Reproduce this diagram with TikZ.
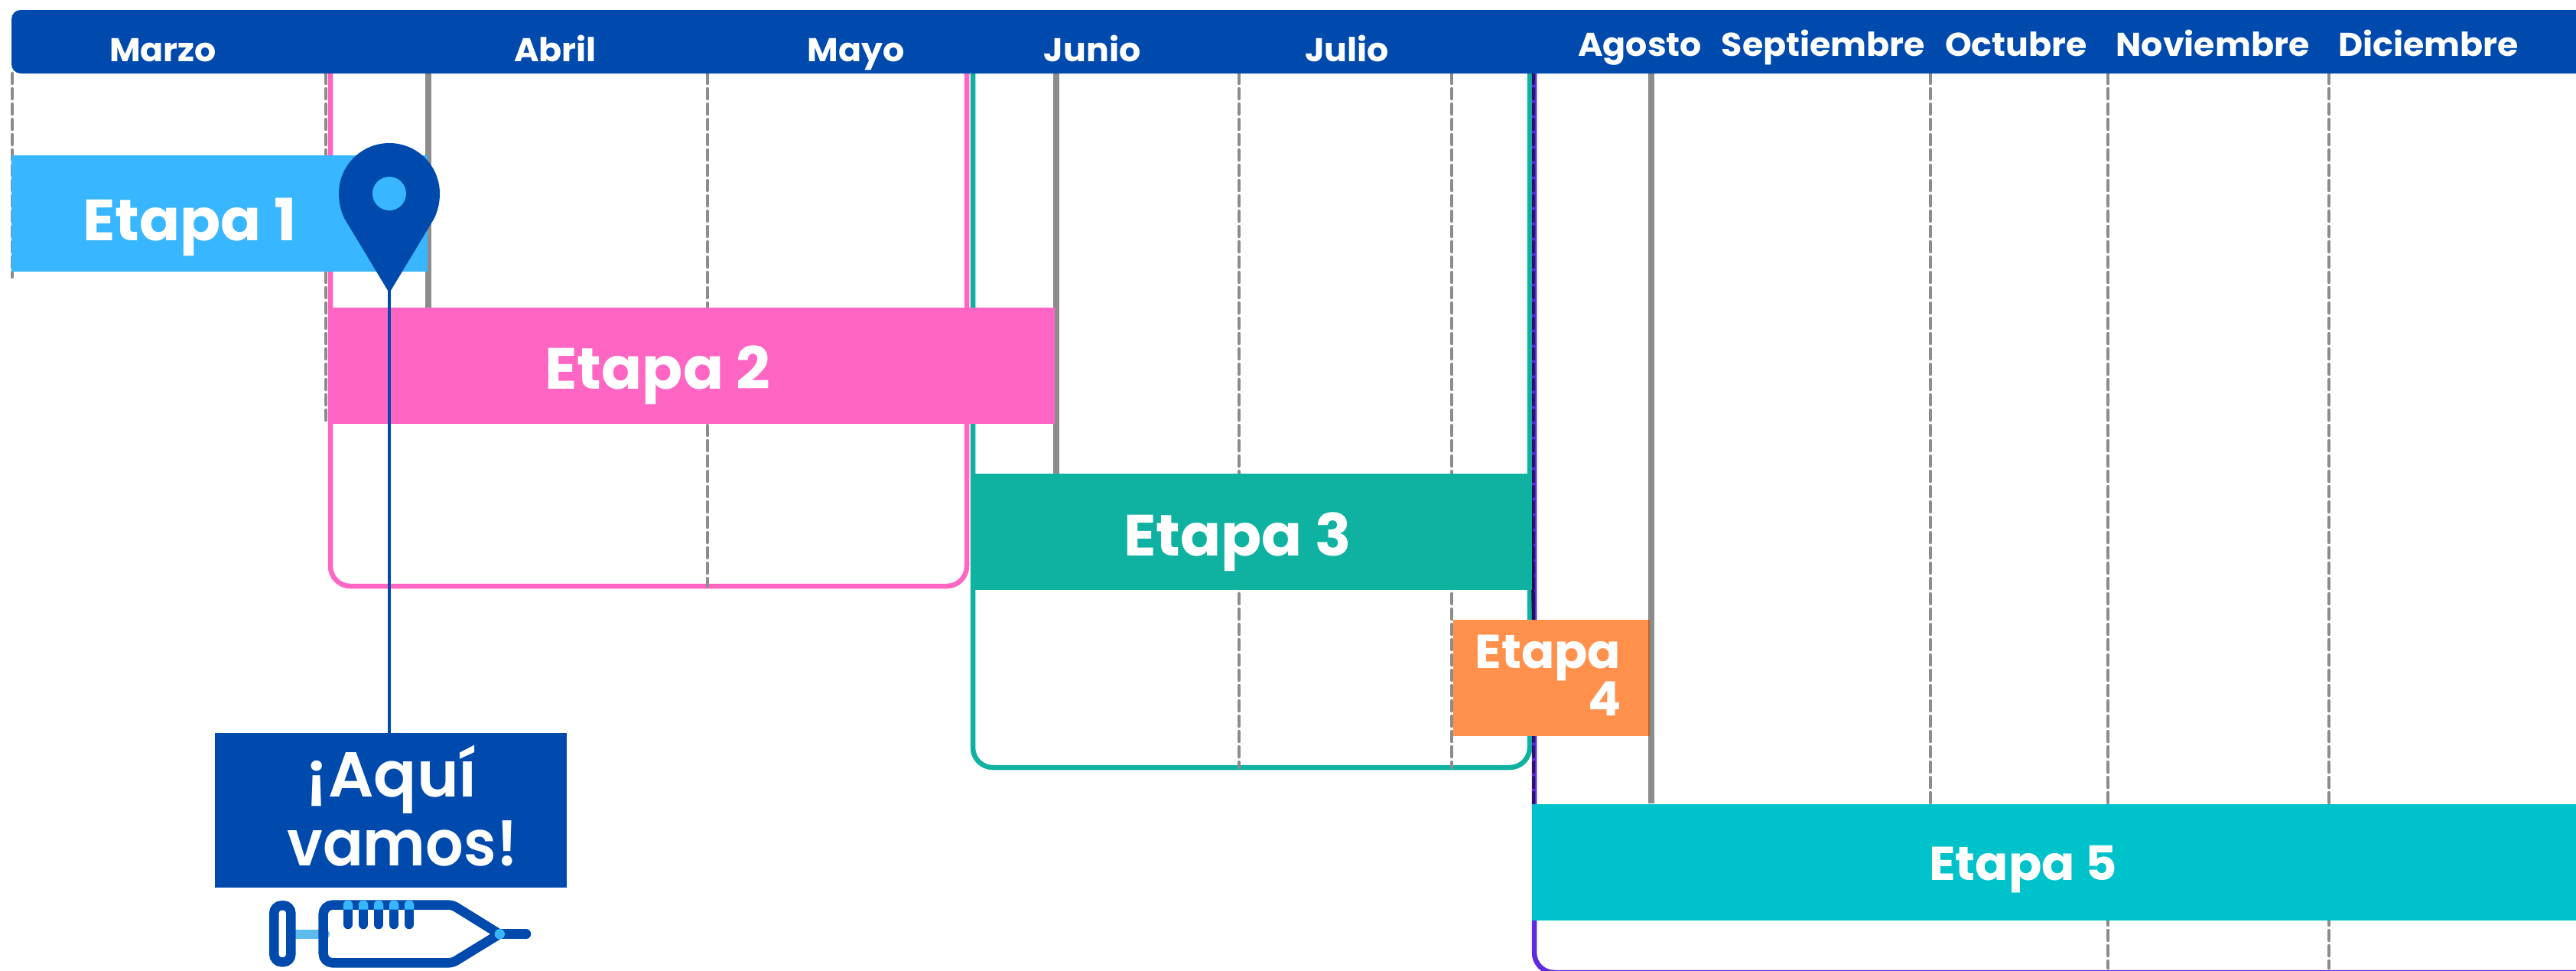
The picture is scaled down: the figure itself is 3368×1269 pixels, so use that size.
\documentclass[tikz,border=0pt]{standalone}
\usepackage{fontspec}
\setmainfont{Poppins}[FakeStretch=1.03]
\newfontfamily\popmed{Poppins SemiBold}
\definecolor{hblue}{HTML}{004AAD}
\definecolor{sky}{HTML}{38B6FF}
\definecolor{pinkb}{HTML}{FF66C4}
\definecolor{tealb}{HTML}{0FB2A1}
\definecolor{orangeb}{HTML}{FF914D}
\definecolor{cyanb}{HTML}{00C2CB}
\definecolor{purpleb}{HTML}{5E2BE0}
\definecolor{gridg}{HTML}{8C8C8C}
\definecolor{rodb}{HTML}{5DBBEB}
\tikzset{
  x=1pt,y=-1pt,
  griddash/.style={draw=gridg,line width=4.5pt,line cap=round,dash pattern=on 13pt off 7pt},
  gridsolid/.style={draw=gridg,line width=8pt},
  frame/.style={line width=6.5pt,rounded corners=26pt},
  bar/.style={anchor=north west,inner sep=0pt,outer sep=0pt},
  month/.style={anchor=base,inner sep=0pt,text=white,font=\bfseries\fontsize{43}{43}\selectfont},
  stage/.style={anchor=base,inner sep=0pt,text=white,font=\bfseries\fontsize{76}{76}\selectfont},
  stagesmall/.style={anchor=base,inner sep=0pt,text=white,font=\bfseries\fontsize{62}{62}\selectfont},
  herelabel/.style={anchor=base,inner sep=0pt,text=white,font=\popmed\fontsize{83}{83}\selectfont},
  syr/.style={draw=hblue,line width=12.5pt,line cap=round},
}
\begin{document}
\begin{tikzpicture}
\useasboundingbox (0,0) rectangle (3368,1269);
% frames
\draw[frame,pinkb] (432,90) -- (432,766) -- (1264,766) -- (1264,90);
\draw[frame,tealb] (1272,90) -- (1272,1003) -- (2000,1003) -- (2000,90);
\begin{scope}
\clip (0,0) rectangle (3368,1269);
\draw[frame,purpleb] (2006,90) -- (2006,1271) -- (3380,1271);
\end{scope}
% grid
\coordinate (gs1) at (560,90); \coordinate (ge1) at (560,402);
\coordinate (gs2) at (1381,90); \coordinate (ge2) at (1381,620);
\coordinate (gs3) at (2159,90); \coordinate (ge3) at (2159,1050);
\draw[gridsolid] (gs1) -- (ge1);
\draw[gridsolid] (gs2) -- (ge2);
\draw[gridsolid] (gs3) -- (ge3);
\draw[griddash] (16,96) -- (16,362);
\draw[griddash] (426,96) -- (426,553);
\draw[griddash] (925,96) -- (925,766);
\draw[griddash] (1620,96) -- (1620,1003);
\draw[griddash] (1898,96) -- (1898,1003);
\draw[griddash] (2524,96) -- (2524,1050);
\draw[griddash] (2756,96) -- (2756,1265);
\draw[griddash] (3045,96) -- (3045,1265);
\draw[griddash,draw=purpleb!45!black] (2005,96) -- (2005,1050);
% header
\begin{scope}
\clip (0,0) rectangle (3368,1269);
\node[bar,fill=hblue,minimum width=3380pt,minimum height=83pt,rounded corners=12pt] (header) at (15,13) {};
\end{scope}
% bars
\node[bar,fill=sky,minimum width=544pt,minimum height=152pt] (e1) at (15,203) {};
\node[bar,fill=pinkb,minimum width=949pt,minimum height=152pt] (e2) at (430,402) {};
\fill[purpleb!35!black] (1999,625) -- (2003,625) -- (2007,810) -- (2003,810) -- cycle;
\node[bar,fill=tealb,minimum width=731pt,minimum height=152pt] (e3) at (1272,619) {};
\node[bar,fill=orangeb,minimum width=257pt,minimum height=152pt] (e4) at (1900,810) {};
\fill[orangeb!70!black] (2155,810) rectangle (2157,962);
\node[bar,fill=cyanb,minimum width=1365pt,minimum height=152pt] (e5) at (2003,1051) {};
% months
\node[month] (m1) at (213,80) {Marzo};
\node[month] (m2) at (726,80) {Abril};
\node[month] (m3) at (1119,80) {Mayo};
\node[month] (m4) at (1428,80) {Junio};
\node[month] (m5) at (1761,80) {Julio};
\node[month] (m6) at (2144,73) {Agosto};
\node[month] (m7) at (2384,73) {Septiembre};
\node[month] (m8) at (2636,73) {Octubre};
\node[month] (m9) at (2893,73) {Noviembre};
\node[month] (m10) at (3175,73) {Diciembre};
% stage labels
\node[stage] (t1) at (248,314) {Etapa 1};
\node[stage] (t2) at (860,508) {Etapa 2};
\node[stage] (t3) at (1618,726) {Etapa 3};
\node[stagesmall] (t4a) at (2024,873) {Etapa};
\node[stagesmall] (t4b) at (2098,935) {4};
\node[stagesmall] (t5) at (2645,1150) {Etapa 5};
% callout
\node[bar,fill=hblue,minimum width=460pt,minimum height=202pt] (aqui) at (281,958) {};
\node[herelabel] (aq1) at (512,1041) {\scalebox{1.0}[1]{¡Aquí}};
\node[herelabel] (aq2) at (526,1131) {\scalebox{0.94}[1]{vamos!}};
% pin
\coordinate (pintip) at (509,380);
\draw[hblue,line width=4pt] (pintip) -- (pintip |- aqui.north);
\fill[hblue] (509,383) -- (450,285) .. controls (446,276) and (443,266) .. (443,253)
  arc[start angle=180,end angle=360,radius=66] .. controls (575,266) and (572,276) .. (568,285) -- cycle;
\fill[sky] (509,253) circle[radius=22];
% syringe
\draw[rodb,line width=12pt,line cap=round] (382,1220.7) -- (425,1220.7);
\draw[syr,rounded corners=10pt] (358.3,1183.3) rectangle (380.3,1257.3);
\draw[syr] (653,1220.7) [rounded corners=5pt] -- (591.7,1182.7) [rounded corners=12pt] -- (422.7,1182.7) -- (422.7,1258.3) [rounded corners=5pt] -- (591.7,1258.3) -- (653,1220.7);
\draw[syr] (653,1220.7) -- (688,1220.7);
\foreach \tx in {455,475,495,515,535}{
  \draw[syr] (\tx,1182.7) -- (\tx,1208);
  \fill[sky] (\tx-6.25,1188.5) -- (\tx-6.25,1182.7) arc[start angle=180,end angle=360,radius=6.25] -- (\tx+6.25,1188.5) -- cycle;
}
\fill[sky] (653.3,1220.7) circle[radius=6.7];
\end{tikzpicture}
\end{document}
